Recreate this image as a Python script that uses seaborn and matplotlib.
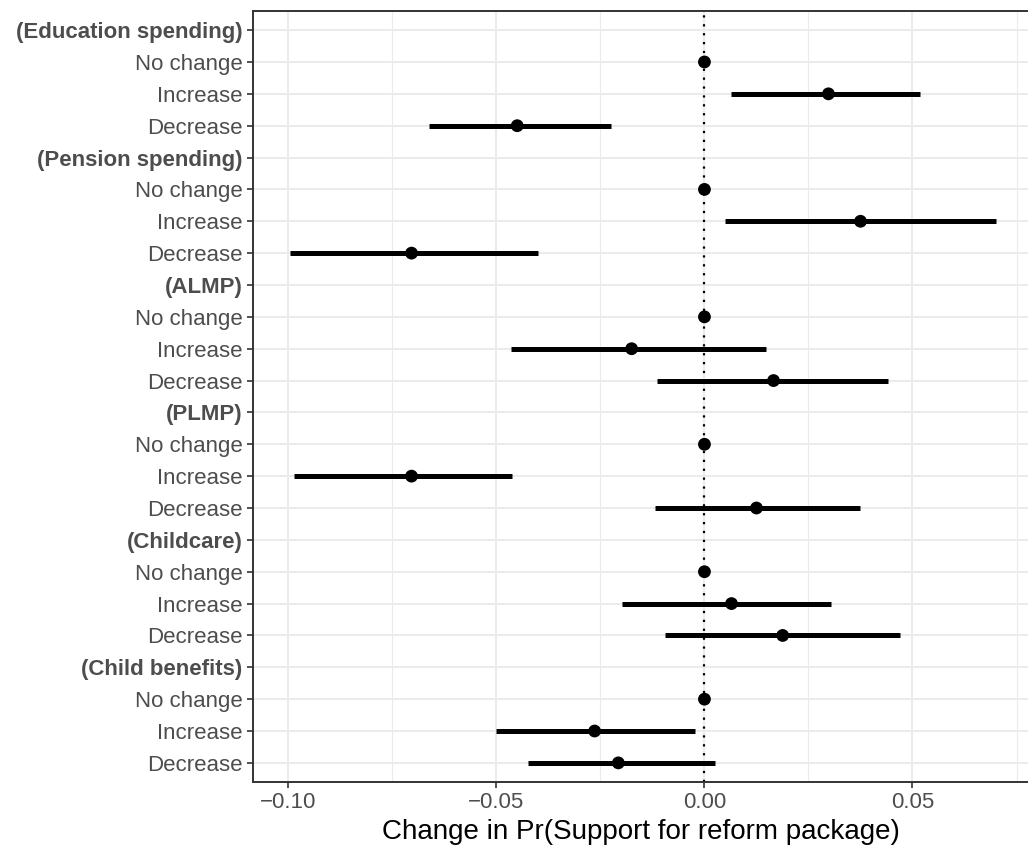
#! /usr/bin/env python3

import numpy as np
import pandas as pd
import seaborn as sns
import matplotlib.pyplot as plt
from matplotlib.ticker import MultipleLocator

# data
groups = ['Education spending', 'Pension spending', 'ALMP', 'PLMP',
          'Childcare', 'Child benefits']
levels = ['No change', 'Increase', 'Decrease']

estimate = [0.0, 0.0298, -0.0450,
            0.0, 0.0375, -0.0704,
            0.0, -0.0175, 0.0166,
            0.0, -0.0704, 0.0125,
            0.0, 0.0065, 0.0188,
            0.0, -0.0264, -0.0207]
lower = [0.0, 0.0063, -0.0661,
         0.0, 0.0050, -0.0995,
         0.0, -0.0464, -0.0113,
         0.0, -0.0986, -0.0118,
         0.0, -0.0197, -0.0094,
         0.0, -0.0500, -0.0423]
upper = [0.0, 0.0519, -0.0224,
         0.0, 0.0700, -0.0399,
         0.0, 0.0147, 0.0442,
         0.0, -0.0462, 0.0373,
         0.0, 0.0305, 0.0469,
         0.0, -0.0022, 0.0026]

# build row order: header row followed by the three levels
row_labels = []
row_bold = []
for g in groups:
    row_labels.append('(%s)' % g)
    row_bold.append(True)
    for lv in levels:
        row_labels.append(lv)
        row_bold.append(False)

rows = []
k = 0
for gi, g in enumerate(groups):
    for li, lv in enumerate(levels):
        rows.append({'group': g, 'level': lv, 'pos': gi * 4 + 1 + li,
                     'estimate': estimate[k], 'lower': lower[k],
                     'upper': upper[k]})
        k += 1
df = pd.DataFrame(rows)

sns.set_theme(style='white')
plt.rcParams['font.family'] = ['Liberation Sans', 'DejaVu Sans']

fig = plt.figure(figsize=(10.28, 8.56), dpi=100)
ax = fig.add_axes([253 / 1028, 1 - 782 / 856, 776 / 1028, 771 / 856])

ax.xaxis.set_major_locator(MultipleLocator(0.05))
ax.xaxis.set_minor_locator(MultipleLocator(0.025))
ax.grid(True, which='major', axis='both', color='#EBEBEB', lw=1.4, zorder=0)
ax.grid(True, which='minor', axis='x', color='#EBEBEB', lw=0.8, zorder=0)
ax.set_axisbelow(True)

ax.axvline(0, color='black', ls=(0, (1, 3)), lw=1.6, zorder=1)
ax.hlines(df['pos'], df['lower'], df['upper'], color='black', lw=3.6,
          zorder=2)
sns.scatterplot(data=df, x='estimate', y='pos', ax=ax, color='black',
                s=85, edgecolor='none', zorder=3, legend=False)

ax.set_ylim(len(row_labels) - 1 + 0.6, -0.6)
ax.set_xlim(-0.1085, 0.0780)
ax.set_yticks(range(len(row_labels)))
ax.set_yticklabels(row_labels)
for lab, b in zip(ax.get_yticklabels(), row_bold):
    if b:
        lab.set_fontweight('bold')
        lab.set_fontsize(16.5)

ax.tick_params(axis='both', which='major', labelsize=16, colors='#333333',
               labelcolor='#4D4D4D', length=4, width=1.2, left=True,
               bottom=True)
ax.tick_params(axis='x', which='minor', length=0)
ax.set_xticks([-0.10, -0.05, 0.0, 0.05])
ax.set_xticklabels(['\u22120.10', '\u22120.05', '0.00', '0.05'])

ax.set_ylabel('')
ax.set_xlabel('Change in Pr(Support for reform package)', fontsize=20,
              color='black', labelpad=4)

for sp in ax.spines.values():
    sp.set_color('#333333')
    sp.set_linewidth(1.4)

plt.savefig('out.png', dpi=100)
